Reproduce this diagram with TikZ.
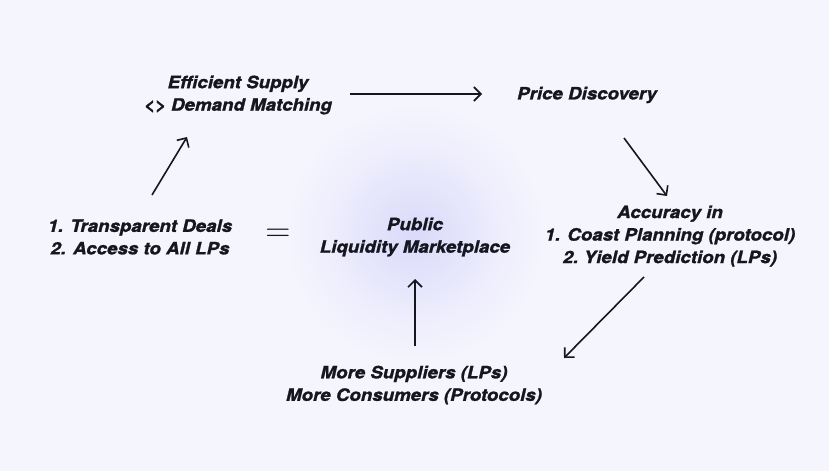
\documentclass[tikz,border=0pt]{standalone}
\usepackage{graphicx}
\usepackage{fontspec}
\setmainfont{TeX Gyre Heros}[FakeStretch=1.1, FakeBold=1.3]
\usepackage{tikz}
\usetikzlibrary{arrows.meta}

\definecolor{bgc}{RGB}{245,245,254}
\definecolor{glowc}{RGB}{219,219,250}
\definecolor{inkc}{RGB}{22,22,32}
\colorlet{glowb}{glowc!70!bgc}
\colorlet{glowd}{glowc!30!bgc}
\pgfdeclareradialshading{glowshade}{\pgfpointorigin}{color(0bp)=(glowc); color(8bp)=(glowb); color(16bp)=(glowd); color(25bp)=(bgc); color(50bp)=(bgc)}

\begin{document}
\begin{tikzpicture}[
  x=1pt, y=-1pt,
  stage/.style={font=\bfseries\itshape\fontsize{17}{22.5}\selectfont, text=inkc, align=center, inner sep=0pt},
  eqsign/.style={font=\fontsize{24.88}{26}\selectfont, text=inkc, inner sep=0pt},
  arrow/.style={-{Straight Barb[length=7pt,width=14pt]}, line width=1.6pt, draw=inkc}
]
\fill[bgc] (0,0) rectangle (829,471);
\useasboundingbox (0,0) rectangle (829,471);
\shade[shading=glowshade] (415,234) circle (130);

\node[stage]  (supply)   at (238,95)  {Efficient Supply\\<> Demand Matching};
\node[stage]  (price)    at (587,95)  {Price Discovery};
\node[stage]  (accuracy) at (670,236) {Accuracy in\\1. Coast Planning (protocol)\\2.\ Yield Prediction (LPs)};
\node[stage]  (market)   at (415,237) {Public\\Liquidity Marketplace};
\node[stage]  (deals)    at (140,237) {1. Transparent Deals\\2. Access to All LPs};
\node[stage]  (growth)   at (414,385) {More Suppliers (LPs)\\More Consumers (Protocols)};
\node[eqsign] (equals)   at (278,235.5) {\scalebox{1.4}{$=$}};

\draw[arrow] ([shift={(112,-1)}]supply.center) -- ([shift={(-105,-1)}]price.center);
\draw[arrow] ([shift={(37,43)}]price.center) -- ([shift={(-3,-40)}]accuracy.center);
\draw[arrow] ([shift={(-26,41)}]accuracy.center) -- ([shift={(150,-27)}]growth.center);
\draw[arrow] ([shift={(1,-39)}]growth.center) -- ([shift={(0,42)}]market.center);
\draw[arrow] ([shift={(12,-42)}]deals.center) -- ([shift={(-51,42)}]supply.center);
\end{tikzpicture}
\end{document}
